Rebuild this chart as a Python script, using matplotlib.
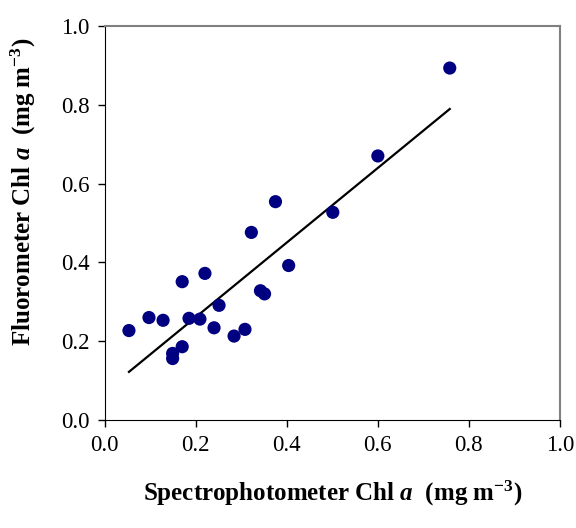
import matplotlib
matplotlib.use("Agg")
import matplotlib.pyplot as plt
import numpy as np

# 分光光度计 vs 荧光计 叶绿素a
spec_chl = [0.758, 0.600, 0.501, 0.375, 0.322, 0.404, 0.053, 0.097, 0.128, 0.170,
            0.220, 0.251, 0.185, 0.209, 0.240, 0.284, 0.308, 0.342, 0.351, 0.170,
            0.149, 0.149]
fluor_chl = [0.893, 0.670, 0.527, 0.554, 0.476, 0.392, 0.227, 0.260, 0.253, 0.351,
             0.372, 0.291, 0.258, 0.256, 0.234, 0.213, 0.230, 0.328, 0.320, 0.186,
             0.169, 0.156]
# 回归线
slope = 0.946
intercept = 0.072
ticks = [0.0, 0.2, 0.4, 0.6, 0.8, 1.0]

plt.rcParams['font.family'] = ['Liberation Serif', 'DejaVu Serif']
plt.rcParams['mathtext.fontset'] = 'custom'
plt.rcParams['mathtext.rm'] = 'Liberation Serif'
plt.rcParams['mathtext.it'] = 'Liberation Serif:italic'
plt.rcParams['mathtext.bf'] = 'Liberation Serif:bold'
plt.rcParams['mathtext.bfit'] = 'Liberation Serif:bold:italic'

fig = plt.figure(figsize=(5.76, 5.28), dpi=100)
ax = fig.add_axes([0.182, 0.2045, 0.79, 0.7465])

ax.scatter(spec_chl, fluor_chl, s=90, c='#000080', edgecolors='none', zorder=3)

xs = np.array([min(spec_chl), max(spec_chl)])
ax.plot(xs, slope * xs + intercept, color='black', lw=1.6, zorder=2)

ax.set_xlim(0, 1)
ax.set_ylim(0, 1)
ax.set_xticks(ticks)
ax.set_yticks(ticks)
ax.set_xticklabels(['%.1f' % t for t in ticks])
ax.set_yticklabels(['%.1f' % t for t in ticks])
ax.tick_params(direction='out', length=5, width=1, labelsize=16.5, pad=6)

ax.spines['left'].set_color('black')
ax.spines['bottom'].set_color('black')
ax.spines['top'].set_color('#808080')
ax.spines['right'].set_color('#808080')
ax.spines['top'].set_linewidth(1.5)
ax.spines['right'].set_linewidth(1.5)

ax.set_xlabel(r'Spectrophotometer Chl $\mathbfit{a}$  (mg m$^{\mathbf{-3}}$)',
              fontsize=18, fontweight='bold')
ax.set_ylabel(r'Fluorometer Chl $\mathbfit{a}$  (mg m$^{\mathbf{-3}}$)',
              fontsize=18, fontweight='bold')
ax.xaxis.set_label_coords(0.5, -0.15)
ax.yaxis.set_label_coords(-0.147, 0.58)

fig.savefig('out.png', dpi=100)
